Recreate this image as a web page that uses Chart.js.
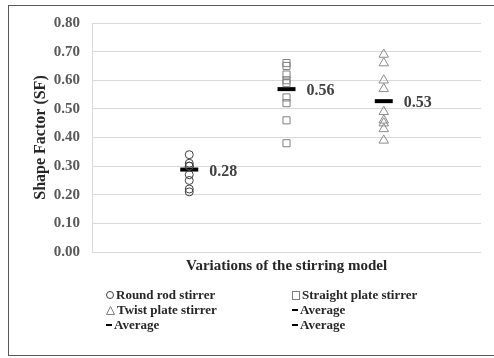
<!DOCTYPE html>
<html>
<head>
<meta charset="utf-8">
<script src="https://cdn.jsdelivr.net/npm/chart.js@4/dist/chart.umd.min.js"></script>
<style>
  body { margin: 0; background: #fff; }
  #wrap { position: relative; width: 494px; height: 358px; overflow: hidden; }
  #frame { position: absolute; left: 8px; top: 5px; width: 490px; height: 351px; border: 1px solid #595959; box-sizing: border-box; }
  canvas { position: absolute; left: 0; top: 0; }
  .leg { position: absolute; font: bold 13px "Liberation Serif", serif; color: #262626; white-space: nowrap; line-height: 14px; }
  .sym { display: inline-block; vertical-align: middle; margin-right: 2px; position: relative; top: -1px; }
  .circ { width: 6px; height: 6px; border: 1px solid #404040; border-radius: 50%; }
  .sq { width: 6px; height: 7px; border: 1px solid #7f7f7f; }
  .dash { width: 6px; height: 2px; background: #000; }
</style>
</head>
<body>
<div id="wrap">
  <canvas id="myChart" width="494" height="358"></canvas>
  <div id="frame"></div>
  <div class="leg" style="left:106px;top:288px"><span class="sym circ"></span>Round rod stirrer</div>
  <div class="leg" style="left:292px;top:288px"><span class="sym sq"></span>Straight plate stirrer</div>
  <div class="leg" style="left:106px;top:303px"><svg class="sym" width="9" height="9"><polygon points="4.5,0.5 8.5,8.5 0.5,8.5" fill="none" stroke="#7f7f7f" stroke-width="1"/></svg>Twist plate stirrer</div>
  <div class="leg" style="left:292px;top:303px"><span class="sym dash"></span>Average</div>
  <div class="leg" style="left:106px;top:318px"><span class="sym dash"></span>Average</div>
  <div class="leg" style="left:292px;top:318px"><span class="sym dash"></span>Average</div>
</div>
<script>
// positions of the three stirrer groups on the x scale
var positions = [1, 2, 3];
var roundRod = [0.34, 0.31, 0.30, 0.30, 0.27, 0.25, 0.22, 0.21];
var straightPlate = [0.66, 0.65, 0.62, 0.60, 0.59, 0.54, 0.52, 0.46, 0.38];
var twistPlate = [0.69, 0.66, 0.60, 0.57, 0.49, 0.46, 0.45, 0.43, 0.39];
var averages = [0.288, 0.569, 0.527];
var averageLabels = ['0.28', '0.56', '0.53'];
var yTicks = [0, 0.1, 0.2, 0.3, 0.4, 0.5, 0.6, 0.7, 0.8];

function pts(vals, xPos) {
  return vals.map(function(v) { return {x: xPos, y: v}; });
}

var avgLabelPlugin = {
  id: 'avgLabels',
  afterDatasetsDraw: function(chart) {
    var ctx = chart.ctx;
    var x = chart.scales.x, y = chart.scales.y;
    ctx.save();
    ctx.font = 'bold 16px "Liberation Serif"';
    ctx.fillStyle = '#404040';
    ctx.textBaseline = 'middle';
    averages.forEach(function(v, i) {
      ctx.fillText(averageLabels[i], x.getPixelForValue(positions[i]) + 20, y.getPixelForValue(v) + 2);
    });
    ctx.restore();
  }
};

var ctx = document.getElementById('myChart').getContext('2d');
var chart = new Chart(ctx, { // eslint-disable-line
  type: 'scatter',
  data: {
    datasets: [{
      label: 'Round rod stirrer',
      data: pts(roundRod, positions[0]),
      pointStyle: 'circle', pointRadius: 4,
      borderColor: '#404040', backgroundColor: 'rgba(0,0,0,0)', borderWidth: 1
    }, {
      label: 'Straight plate stirrer',
      data: pts(straightPlate, positions[1]),
      pointStyle: 'rect', pointRadius: 5,
      borderColor: '#7f7f7f', backgroundColor: 'rgba(0,0,0,0)', borderWidth: 1
    }, {
      label: 'Twist plate stirrer',
      data: pts(twistPlate, positions[2]),
      pointStyle: 'triangle', pointRadius: 5.5,
      borderColor: '#8c8c8c', backgroundColor: 'rgba(0,0,0,0)', borderWidth: 1
    }, {
      label: 'Average',
      data: averages.map(function(v, i) { return {x: positions[i], y: v}; }),
      pointStyle: 'line', pointRadius: 9,
      borderColor: '#000', backgroundColor: '#000', borderWidth: 4
    }]
  },
  plugins: [avgLabelPlugin],
  options: {
    responsive: false,
    animation: false,
    layout: { padding: { top: 23, right: 5, left: 0, bottom: 0 } },
    plugins: { legend: { display: false }, tooltip: { enabled: false } },
    scales: {
      x: {
        type: 'linear', min: 0, max: 4,
        grid: { display: false },
        border: { display: false },
        ticks: { display: false },
        title: {
          display: true,
          text: 'Variations of the stirring model',
          color: '#262626',
          font: { family: 'Liberation Serif', weight: 'bold', size: 15 },
          padding: { top: 0, bottom: 83 }
        },
        afterFit: function(scale) { scale.height = 106; }
      },
      y: {
        min: 0, max: 0.8,
        afterBuildTicks: function(scale) {
          scale.ticks = yTicks.map(function(v) { return {value: v}; });
        },
        grid: { color: '#d9d9d9', lineWidth: 1, drawTicks: false },
        border: { color: '#d9d9d9' },
        ticks: {
          padding: 12,
          color: '#595959',
          font: { family: 'Liberation Serif', weight: 'bold', size: 15 },
          callback: function(v) { return v.toFixed(2); }
        },
        title: {
          display: true,
          text: 'Shape Factor (SF)',
          color: '#262626',
          font: { family: 'Liberation Serif', weight: 'bold', size: 16 },
          padding: { top: 31, bottom: 0 }
        },
        afterFit: function(scale) { scale.width = 92; }
      }
    }
  }
});
</script>
</body>
</html>
